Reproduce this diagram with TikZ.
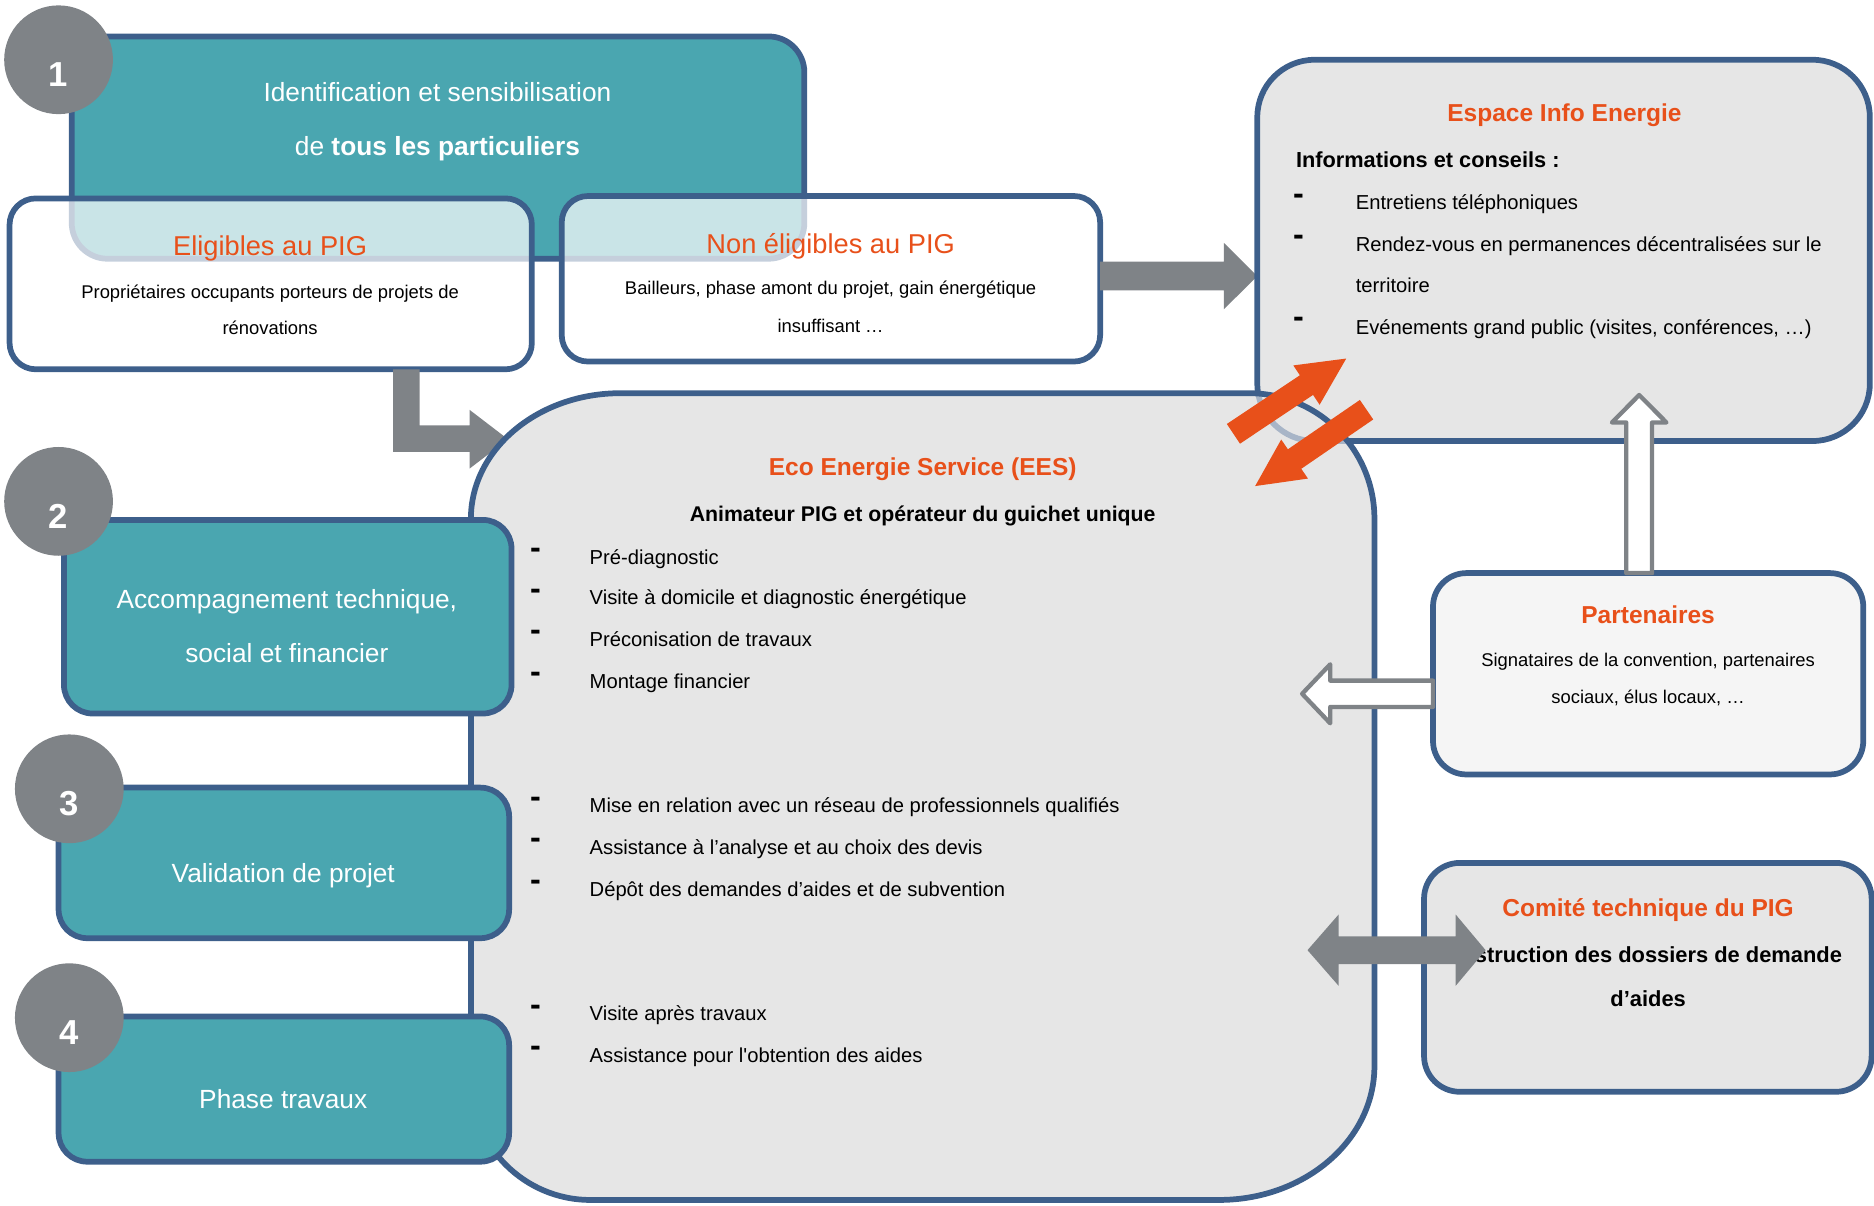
\documentclass[tikz,border=0pt]{standalone}
\usepackage{fontspec}
\setmainfont{Liberation Sans}
\usetikzlibrary{calc,fit}
\definecolor{bblue}{RGB}{61,95,139}
\definecolor{teal1}{RGB}{74,166,176}
\definecolor{cgray}{RGB}{127,131,135}
\definecolor{orng}{RGB}{232,80,26}
\definecolor{boxgray}{RGB}{230,230,230}
\definecolor{pgray}{RGB}{245,245,245}
\definecolor{lightb}{RGB}{168,181,199}
\newcommand\fsz[1]{\fontsize{#1}{#1}\selectfont}
% block arrow: style, tail, tip, half shaft, half head, head length
\newcommand\blockarrow[6]{%
  \path ($(#3)!#6!(#2)$) coordinate (ba-h);
  \path[#1] ($(#2)!#4!90:(#3)$) -- ($(ba-h)!#4!-90:(#2)$) -- ($(ba-h)!#5!-90:(#2)$) -- (#3)
     -- ($(ba-h)!#5!90:(#2)$) -- ($(ba-h)!#4!90:(#2)$) -- ($(#2)!#4!-90:(#3)$) -- cycle;
}
\newcommand\eespath{(519,329) -- (1045,329) .. controls (1103,329) and (1150,376) .. (1150,434) -- (1150,892) .. controls (1150,953.9) and (1091.8,1004) .. (1020,1004) -- (494,1004) .. controls (438.8,1004) and (394,959.2) .. (394,904) -- (394,434) .. controls (394,376) and (450,329) .. (519,329) -- cycle}
\begin{document}
\begin{tikzpicture}[x=0.5pt,y=-0.5pt,
  box/.style={draw=bblue, line width=2.4pt, inner sep=0pt, outer sep=0pt},
  tealbox/.style={box, fill=teal1, rounded corners=12pt},
  whitebox/.style={box, fill=white, fill opacity=0.7, rounded corners=11pt},
  graybox/.style={box, fill=boxgray},
  numc/.style={circle, fill=cgray, minimum size=45.5pt, inner sep=0pt},
  num/.style={anchor=base, inner sep=0pt, text=white, font=\fsz{14.5pt}\bfseries},
  txt/.style={anchor=base, inner sep=0pt},
  wtxt/.style={txt, text=white, font=\fsz{11pt}},
  otitle/.style={txt, text=orng, font=\fsz{11.4pt}},
  btitle/.style={txt, text=orng, font=\fsz{10.25pt}\bfseries},
  small/.style={txt, font=\fsz{7.7pt}},
  itemtxt/.style={anchor=base west, inner sep=0pt, font=\fsz{8.45pt}},
  dashmark/.style={anchor=base, inner sep=0pt, font=\fsz{13.5pt}\bfseries},
]
\useasboundingbox (0,0) rectangle (1568,1009.07);

% ---- step 1 and its two white boxes
\node[tealbox, rounded corners=15pt, fit={(60,30.5) (673,216.5)}] (s1) {};
\node[numc] (c1) at (49,50) {};
\node[num] (n1) at (49,72.4) {1};
\node[whitebox, fit={(8,166) (445,309)}] (elig) {};
\node[whitebox, fit={(470,164) (920.5,302.5)}] (nonelig) {};
\node[wtxt] (s1a) at (366,85.3) {Identification et sensibilisation};
\node[wtxt] (s1b) at (366,130.3) {de \textbf{tous les particuliers}};
\node[otitle] (eligt) at (226,214) {Eligibles au PIG};
\node[small] (eliga) at (226,249.4) {Propriétaires occupants porteurs de projets de};
\node[small] (eligb) at (226,280) {rénovations};
\node[otitle] (nelt) at (695,212.4) {Non éligibles au PIG};
\node[small] (nela) at (695,246) {Bailleurs, phase amont du projet, gain énergétique};
\node[small] (nelb) at (695,278.4) {insuffisant …};

% ---- gray arrows from step 1 boxes
\coordinate (a1t) at (920.5,231);
\coordinate (a1h) at (1052,231);
\blockarrow{fill=cgray}{a1t}{a1h}{6pt}{13.9pt}{14pt}
\fill[cgray] (329,309) -- (351,309) -- (351,356) -- (393,356) -- (393,343) -- (425,367.5) -- (393,392) -- (393,378) -- (329,378) -- cycle;

% ---- Espace Info Energie
\node[graybox, rounded corners=24pt, fit={(1052,50) (1564.5,369)}] (eie) {};

% ---- EES big box
\fill[boxgray] \eespath;
\begin{scope}
  \clip \eespath;
  \draw[lightb, line width=2.4pt, rounded corners=24pt] (1052,50) rectangle (1564.5,369);
\end{scope}
\draw[bblue, line width=2.4pt] \eespath;
\coordinate (ees) at (772,660);

% ---- steps 2-4
\node[tealbox, fit={(53.5,435) (428,597)}] (s2) {};
\node[numc] (c2) at (49,419.5) {};
\node[num] (n2) at (49,442.5) {2};
\node[wtxt] (s2a) at (240,509) {Accompagnement technique,};
\node[wtxt] (s2b) at (240,554) {social et financier};

\node[tealbox, fit={(49,659) (426,785)}] (s3) {};
\node[numc] (c3) at (58,660) {};
\node[num] (n3) at (58,682) {3};
\node[wtxt] (s3a) at (237,738) {Validation de projet};

\node[tealbox, fit={(49,850.5) (426,972)}] (s4) {};
\node[numc] (c4) at (58,851.5) {};
\node[num] (n4) at (58,874) {4};
\node[wtxt] (s4a) at (237,927.5) {Phase travaux};

% ---- EES texts
\node[btitle] (eest) at (772,397.5) {Eco Energie Service (EES)};
\node[txt, font=\fsz{8.9pt}\bfseries] (eess) at (772,436.5) {Animateur PIG et opérateur du guichet unique};
\foreach \y/\t [count=\i] in {472/Pré-diagnostic,
  506/Visite à domicile et diagnostic énergétique,
  541/Préconisation de travaux,
  576/Montage financier,
  680/Mise en relation avec un réseau de professionnels qualifiés,
  715/Assistance à l’analyse et au choix des devis,
  750/Dépôt des demandes d’aides et de subvention,
  854/Visite après travaux,
  889/Assistance pour l\textquotesingle obtention des aides}{
  \node[itemtxt] (ei\i) at (493,\y) {\t};
  \node[dashmark] (ed\i) at (448,\y-4.7) {-};
}

% ---- Espace texts
\node[btitle] (eiet) at (1309,101.4) {Espace Info Energie};
\node[anchor=base west, inner sep=0pt, font=\fsz{9.1pt}\bfseries] (eies) at (1084,140) {Informations et conseils :};
\node[itemtxt] (ii1) at (1134,175.4) {Entretiens téléphoniques};
\node[itemtxt] (ii2) at (1134,210.8) {Rendez-vous en permanences décentralisées sur le};
\node[itemtxt] (ii3) at (1134,244.6) {territoire};
\node[itemtxt] (ii4) at (1134,280) {Evénements grand public (visites, conférences, …)};
\node[dashmark] (id1) at (1086.5,171.3) {-};
\node[dashmark] (id2) at (1086.5,205.3) {-};
\node[dashmark] (id3) at (1086.5,274.3) {-};

% ---- Partenaires
\node[box, fill=pgray, rounded corners=14pt, fit={(1199,479.5) (1559,648)}] (part) {};
\node[btitle] (partt) at (1379,522) {Partenaires};
\node[small] (parta) at (1379,557.7) {Signataires de la convention, partenaires};
\node[small] (partb) at (1379,589) {sociaux, élus locaux, …};

% ---- Comite technique
\node[graybox, rounded corners=15pt, fit={(1191.5,722) (1566,913.5)}] (comite) {};
\node[btitle] (comt) at (1379,767) {Comité technique du PIG};
\node[txt, font=\fsz{9.15pt}\bfseries] (coma) at (1379.5,805.5) {Instruction des dossiers de demande};
\node[txt, font=\fsz{9.15pt}\bfseries] (comb) at (1379,842.5) {d’aides};

% ---- hollow arrows from Partenaires
\coordinate (h1t) at (1371.5,479.5);
\coordinate (h1h) at (1371.5,330.5);
\blockarrow{fill=white, draw=cgray, line width=1.8pt, line join=round}{h1t}{h1h}{5.4pt}{11.4pt}{11.5pt}
\coordinate (h2t) at (1199,580.5);
\coordinate (h2h) at (1089.5,580.5);
\blockarrow{fill=white, draw=cgray, line width=1.8pt, line join=round}{h2t}{h2h}{5.5pt}{12.35pt}{11.75pt}

% ---- double arrow EES <-> Comite
\fill[cgray] (1094,795) -- (1120,765.2) -- (1120,783.4) -- (1218,783.4) -- (1218,765.2) -- (1243,795)
  -- (1218,824.8) -- (1218,806.6) -- (1120,806.6) -- (1120,824.8) -- cycle;

% ---- orange exchange arrows EES <-> Espace
\coordinate (o1t) at (1032,363);
\coordinate (o1h) at (1126.4,300);
\blockarrow{fill=orng}{o1t}{o1h}{4.95pt}{9.9pt}{20pt}
\coordinate (o2t) at (1143.4,342.8);
\coordinate (o2h) at (1050.2,406.7);
\blockarrow{fill=orng}{o2t}{o2h}{4.95pt}{9.9pt}{20pt}
\end{tikzpicture}
\end{document}
